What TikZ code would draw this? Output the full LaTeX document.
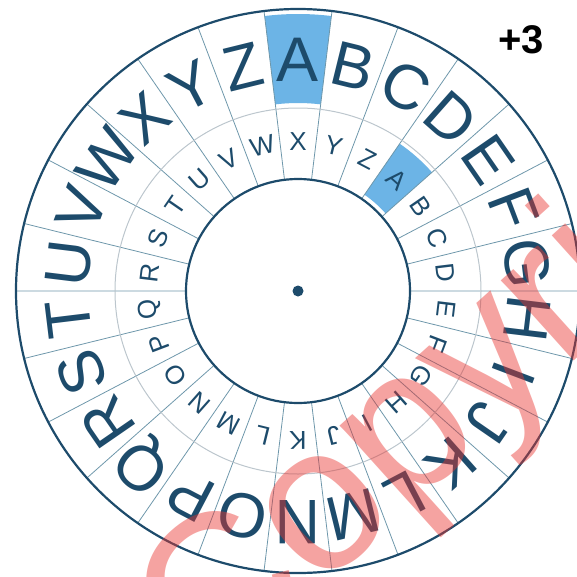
\documentclass[tikz,border=0pt]{standalone}
\usepackage{fontspec}
\setmainfont{Liberation Sans}
\definecolor{wheelnavy}{HTML}{1D4B6B}
\definecolor{cellblue}{HTML}{6CB4E6}
\definecolor{spokeblue}{HTML}{6E97AB}
\definecolor{ringgrey}{HTML}{BCC6CD}
\definecolor{markred}{HTML}{E8342F}

\begin{document}
\begin{tikzpicture}[x=1pt, y=1pt,
  rim/.style={draw=wheelnavy, line width=2.2pt},
  midring/.style={draw=ringgrey, line width=1pt},
  spoke/.style={draw=spokeblue, line width=0.8pt},
  cell/.style={fill=cellblue, draw=none},
  bigltr/.style={text=wheelnavy, inner sep=0pt, font=\fontsize{63}{63}\selectfont},
  smallltr/.style={text=wheelnavy, inner sep=0pt, font=\fontsize{26}{26}\selectfont},
  hub/.style={circle, fill=wheelnavy, inner sep=0pt, minimum size=11pt},
  shiftlbl/.style={inner sep=0pt, font=\bfseries\fontsize{40}{40}\selectfont},
  stamp/.style={text=markred, opacity=0.45, inner sep=0pt,
                font=\fontsize{205}{205}\selectfont}
]
\useasboundingbox (-298,-285) rectangle (279,291);

% highlighted cells: outer A and inner A (shift +3)
\fill[cell] (83.08:188) arc[start angle=83.08, end angle=96.92, radius=188]
  -- (96.92:277) arc[start angle=96.92, end angle=83.08, radius=277] -- cycle;
\fill[cell] (41.54:117) arc[start angle=41.54, end angle=55.38, radius=117]
  -- (55.38:179) arc[start angle=55.38, end angle=41.54, radius=179] -- cycle;

% spokes
\foreach \k in {0,...,25} {
  \draw[spoke] ({96.923+\k*13.846}:183) -- ({96.923+\k*13.846}:282);
  \draw[spoke] ({96.923+\k*13.846}:112) -- ({96.923+\k*13.846}:183);
}

% rings
\draw[midring] (0,0) circle[radius=183];
\draw[rim] (0,0) circle[radius=282];
\draw[rim] (0,0) circle[radius=112];
\node[hub] (hub) at (0,0) {};

% letters
\foreach \ch [count=\i from 0] in {A,B,C,D,E,F,G,H,I,J,K,L,M,N,O,P,Q,R,S,T,U,V,W,X,Y,Z} {
  \node[bigltr, rotate={-\i*13.846}] (out-\i) at ({90-\i*13.846}:231) {\ch};
  \node[smallltr, rotate={-(\i+3)*13.846}] (in-\i) at ({90-(\i+3)*13.846}:149) {\ch};
}

\node[shiftlbl] (shift-label) at (223,251) {+3};

% watermark
\begin{scope}
  \clip (-298,-285) rectangle (279,291);
  \node[stamp, anchor=base west, rotate=42] (stamp) at (-90,-400) {Copyright};
\end{scope}
\end{tikzpicture}
\end{document}
